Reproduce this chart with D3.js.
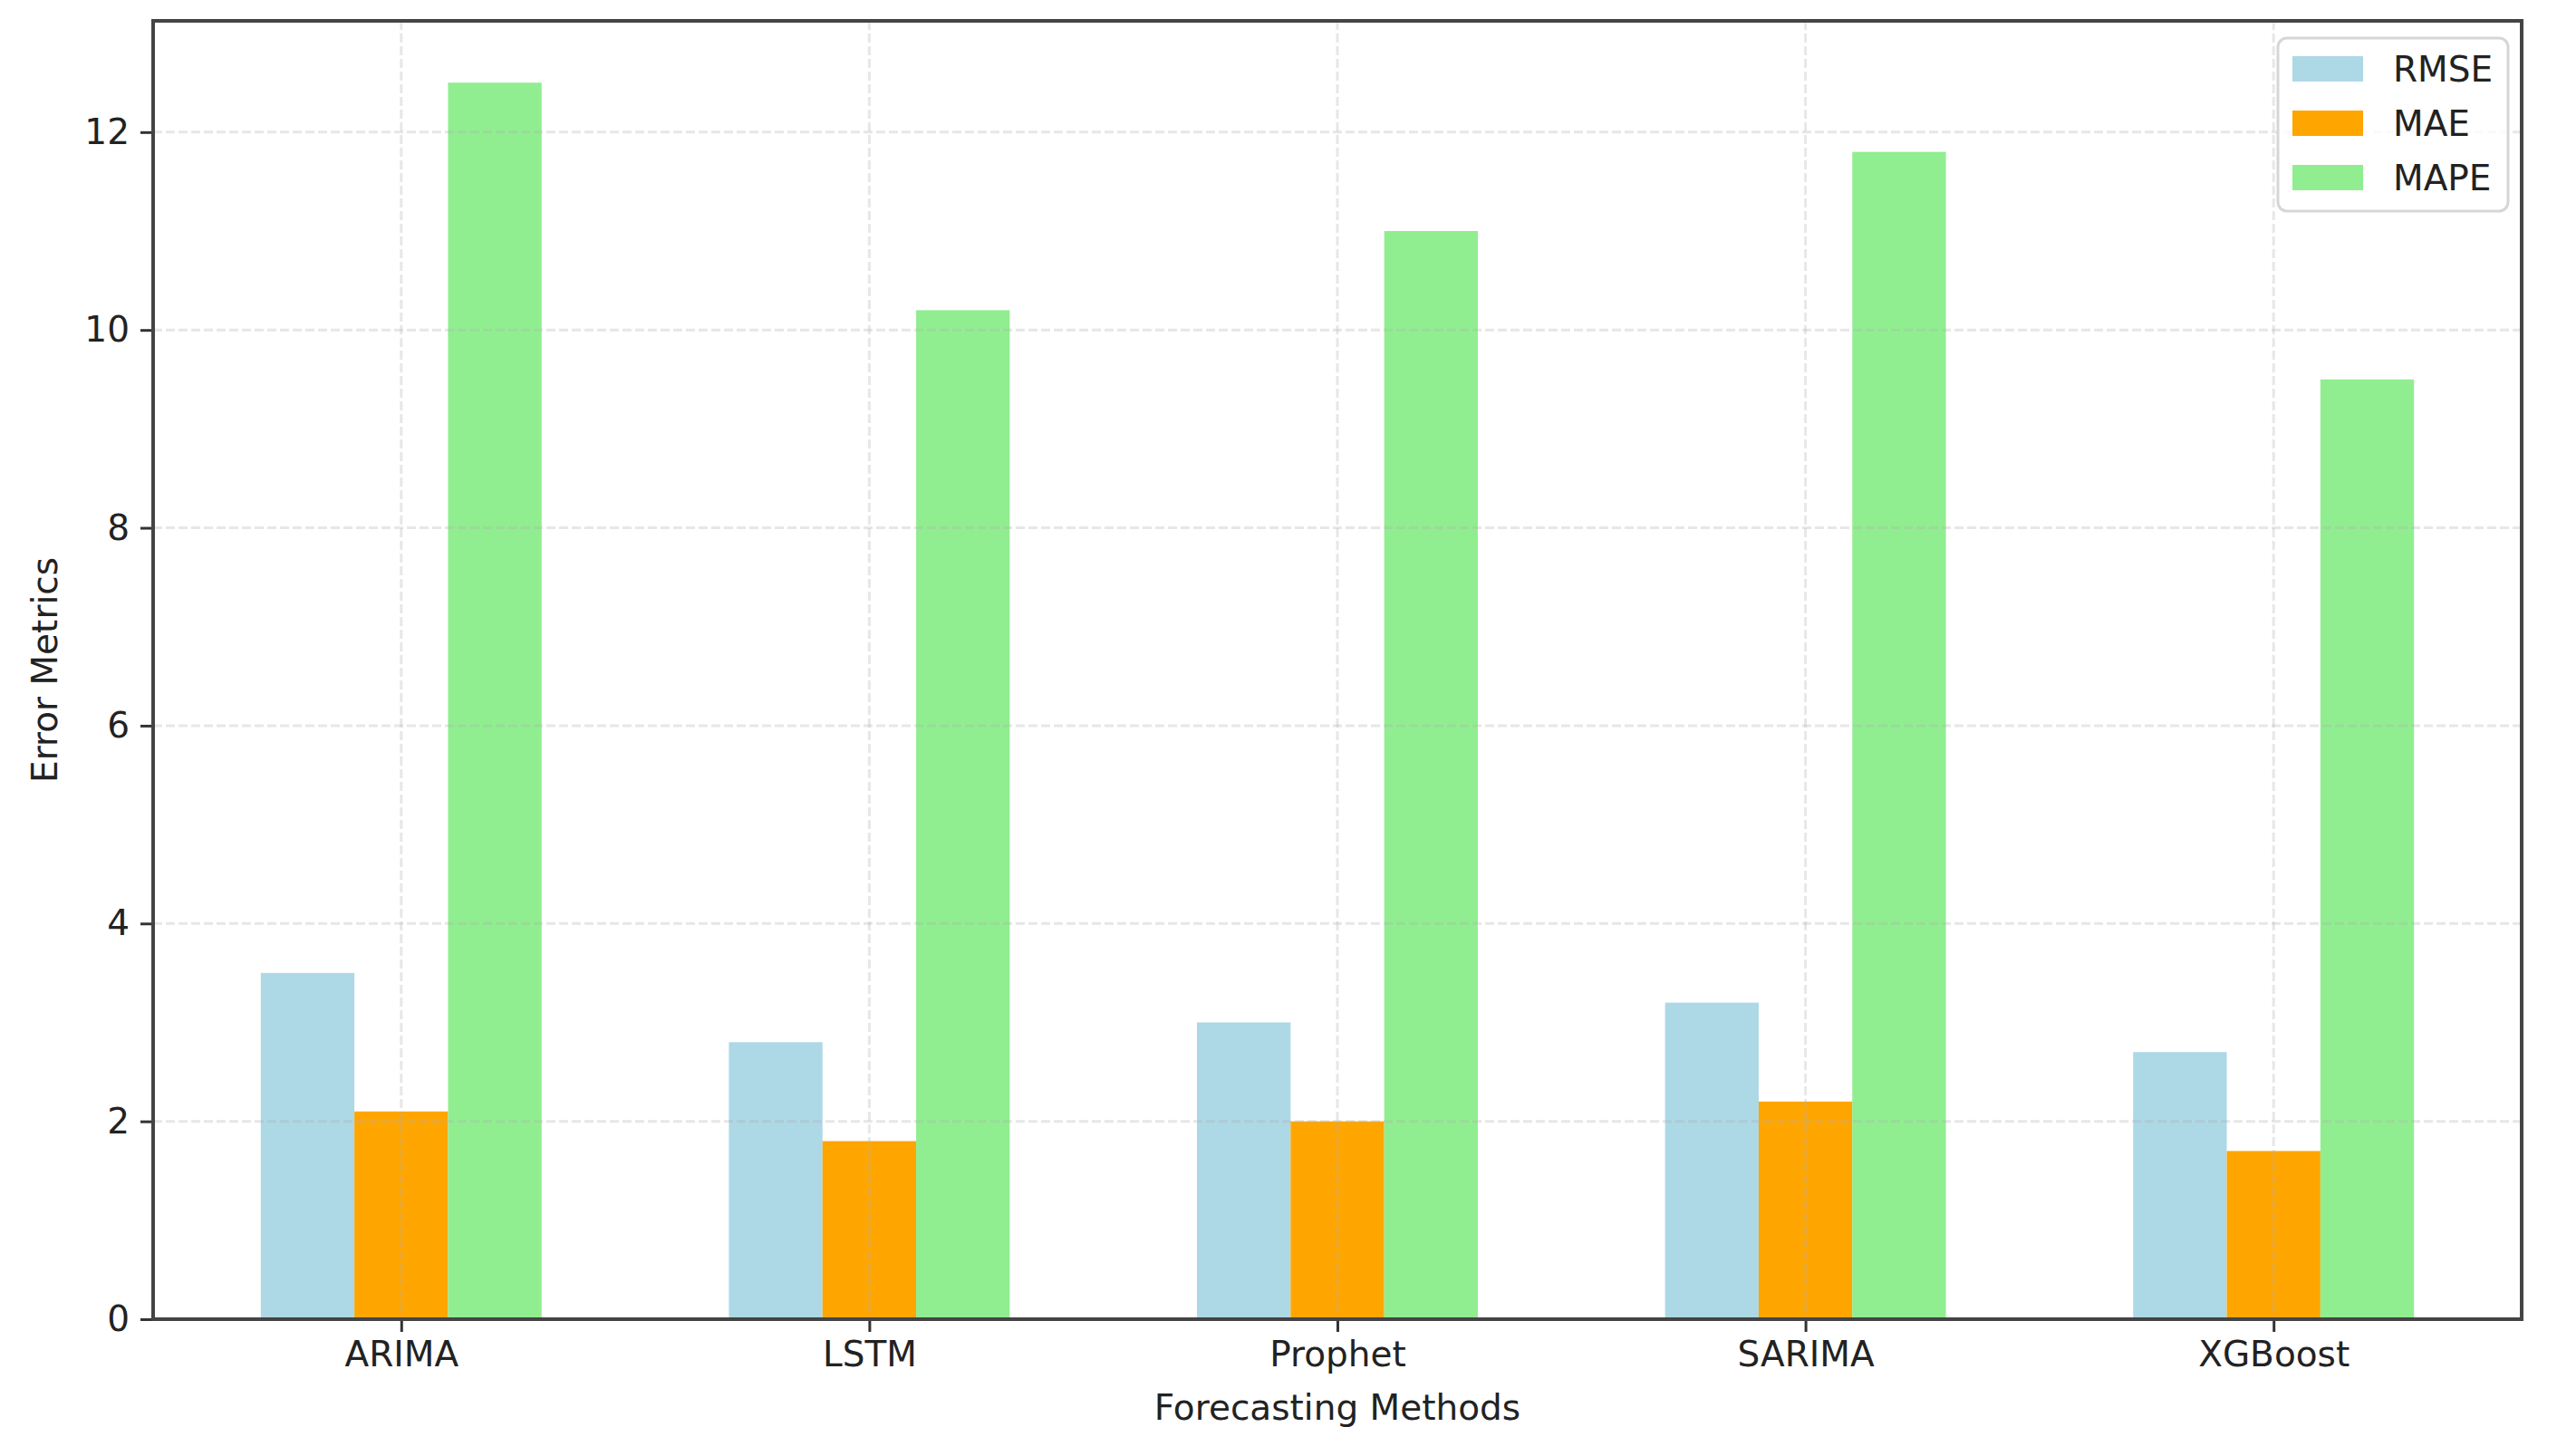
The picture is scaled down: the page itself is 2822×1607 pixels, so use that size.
<!DOCTYPE html>
<html>
<head>
<meta charset="utf-8">
<script src="https://cdn.jsdelivr.net/npm/d3@7"></script>
<style>
  html, body { margin: 0; padding: 0; background: #fff; }
  svg { display: block; }
  text { font-family: "DejaVu Sans", sans-serif; fill: #222; }
</style>
</head>
<body>
<svg id="chart" width="2822" height="1607"></svg>
<script>
// ---- data ----
const categories = ["ARIMA", "LSTM", "Prophet", "SARIMA", "XGBoost"];
const seriesNames = ["RMSE", "MAE", "MAPE"];
const rmseValues = [3.5, 2.8, 3.0, 3.2, 2.7];
const maeValues  = [2.1, 1.8, 2.0, 2.2, 1.7];
const mapeValues = [12.5, 10.2, 11.0, 11.8, 9.5];
const yTickValues = [0, 2, 4, 6, 8, 10, 12];
const seriesColors = ["#ADD8E6", "#FFA500", "#90EE90"];
const xLabel = "Forecasting Methods";
const yLabel = "Error Metrics";

const seriesValues = [rmseValues, maeValues, mapeValues];

// ---- layout ----
const svg = d3.select("#chart");
const pL = 169, pR = 2783, pT = 23, pB = 1456;
const barW = 0.2;
const fontSize = 39;

const x = d3.scaleLinear().domain([-0.53, 4.53]).range([pL, pR]);
const yMax = d3.max(mapeValues) * 1.05;
const y = d3.scaleLinear().domain([0, yMax]).range([pB, pT]);

// bars
const rows = [];
seriesValues.forEach((vals, j) => {
  vals.forEach((v, i) => rows.push({ i, j, v }));
});
svg.append("g").selectAll("rect").data(rows).enter().append("rect")
  .attr("x", d => x(d.i + (d.j - 1) * barW - barW / 2))
  .attr("width", d => x(barW) - x(0))
  .attr("y", d => y(d.v))
  .attr("height", d => y(0) - y(d.v))
  .attr("fill", d => seriesColors[d.j]);

// grid (drawn above bars like matplotlib default)
const grid = svg.append("g")
  .attr("stroke", "#b0b0b0").attr("stroke-opacity", 0.3)
  .attr("stroke-width", 3).attr("stroke-dasharray", "10,4");
grid.selectAll("line.h").data(yTickValues).enter().append("line")
  .attr("x1", pL).attr("x2", pR)
  .attr("y1", d => y(d)).attr("y2", d => y(d));
grid.selectAll("line.v").data(categories).enter().append("line")
  .attr("x1", (d, i) => x(i)).attr("x2", (d, i) => x(i))
  .attr("y1", pT).attr("y2", pB);

// axes
const yAxis = d3.axisLeft(y).tickValues(yTickValues).tickSize(14).tickPadding(12)
  .tickFormat(d3.format("d"));
const gy = svg.append("g").attr("transform", `translate(${pL},0)`).call(yAxis);
const xAxis = d3.axisBottom(x).tickValues(categories.map((d, i) => i)).tickSize(14).tickPadding(10)
  .tickFormat(i => categories[i]);
const gx = svg.append("g").attr("transform", `translate(0,${pB})`).call(xAxis);
[gx, gy].forEach(g => {
  g.select(".domain").remove();
  g.selectAll(".tick line").attr("stroke", "#333").attr("stroke-width", 3);
  g.selectAll(".tick text").attr("font-size", fontSize)
    .attr("font-family", "DejaVu Sans").attr("fill", "#222");
});

// spines
svg.append("rect")
  .attr("x", pL).attr("y", pT)
  .attr("width", pR - pL).attr("height", pB - pT)
  .attr("fill", "none").attr("stroke", "#444").attr("stroke-width", 4);

// axis labels
svg.append("text")
  .attr("x", (pL + pR) / 2).attr("y", 1567)
  .attr("text-anchor", "middle").attr("font-size", fontSize)
  .text(xLabel);
svg.append("text")
  .attr("transform", `translate(63,${(pT + pB) / 2}) rotate(-90)`)
  .attr("text-anchor", "middle").attr("font-size", fontSize)
  .text(yLabel);

// legend
const lg = svg.append("g");
lg.append("rect")
  .attr("x", 2514).attr("y", 42).attr("width", 254).attr("height", 191)
  .attr("rx", 10).attr("fill", "#fff").attr("fill-opacity", 0.8)
  .attr("stroke", "#d6d6d6").attr("stroke-width", 3);
seriesNames.forEach((name, j) => {
  const cy = 76 + j * 60;
  lg.append("rect")
    .attr("x", 2530).attr("y", cy - 14).attr("width", 78).attr("height", 28)
    .attr("fill", seriesColors[j]);
  lg.append("text")
    .attr("x", 2641).attr("y", cy).attr("dy", "0.35em")
    .attr("font-size", fontSize).text(name);
});
</script>
</body>
</html>
